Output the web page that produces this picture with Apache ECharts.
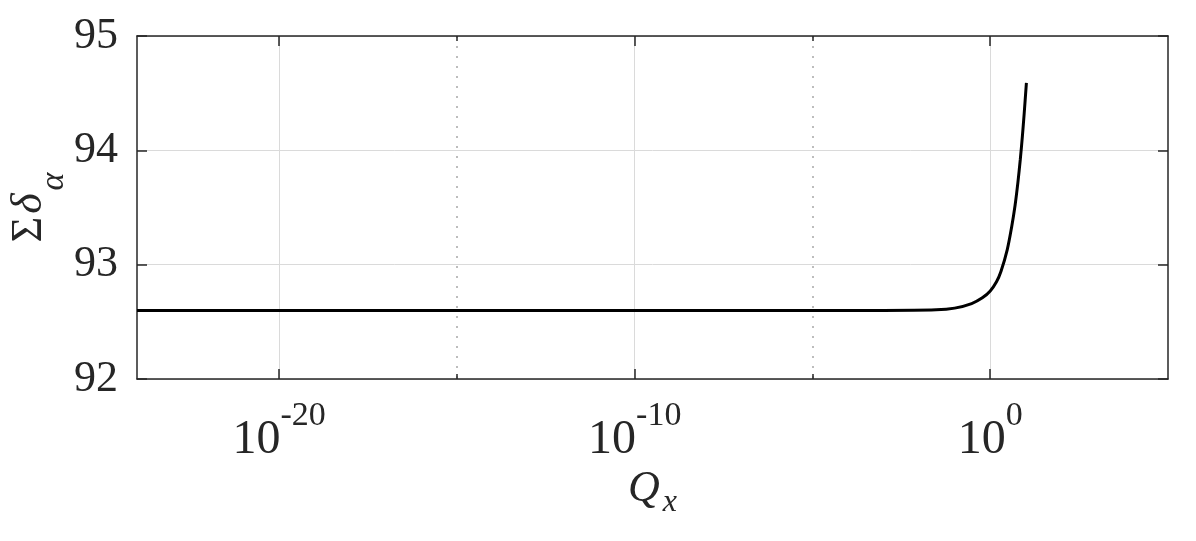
<!DOCTYPE html>
<html>
<head>
<meta charset="utf-8">
<script src="https://cdn.jsdelivr.net/npm/echarts@6/dist/echarts.min.js"></script>
<style>
  html, body { margin: 0; padding: 0; background: #fff; }
  #main { width: 1196px; height: 541px; }
</style>
</head>
<body>
<div id="main"></div>
<script>
  // Q_x values and the summed delta_alpha
  const qx = [1e-24, 1e-12, 1e-3, 0.03, 0.1, 0.3, 0.6, 1.0, 1.5, 2.0, 3.0, 4.0, 5.0, 6.0, 7.0, 8.0, 9.0, 10.4];
  const sumDelta = [92.6, 92.6, 92.6, 92.605, 92.62, 92.66, 92.71, 92.77, 92.85, 92.94, 93.13, 93.33, 93.52, 93.72, 93.92, 94.12, 94.32, 94.59];

  // tick positions
  const xMajor = [1e-20, 1e-10, 1];
  const xMinor = [1e-15, 1e-5];
  const yTicks = [92, 93, 94, 95];

  const ink = '#262626';
  const serif = "'Liberation Serif', 'Times New Roman', serif";

  const chart = echarts.init(document.getElementById('main'));

  const xBase = {
    type: 'log',
    logBase: 10,
    min: 1e-24,
    max: 1e5,
    gridIndex: 0
  };

  const option = {
    animation: false,
    backgroundColor: '#fff',
    grid: { left: 137, right: 28, top: 36, bottom: 162, containLabel: false, outerBoundsMode: 'none' },
    xAxis: [
      Object.assign({}, xBase, {
        position: 'bottom',
        name: '{q|Q}{x|x}',
        nameLocation: 'middle',
        nameGap: 81,
        nameMoveOverlap: false,
        nameTextStyle: {
          rich: {
            q: { fontFamily: serif, fontStyle: 'italic', fontSize: 44, color: ink },
            x: { fontFamily: serif, fontStyle: 'italic', fontSize: 32, color: ink, padding: [27, 0, 0, 3] }
          }
        },
        axisLine: { show: true, onZero: false, lineStyle: { color: ink, width: 1.5 } },
        axisTick: { show: true, inside: true, length: 10, customValues: xMajor, lineStyle: { color: ink, width: 1.5 } },
        axisLabel: {
          customValues: xMajor,
          margin: 20,
          formatter: function (v) {
            const e = Math.round(Math.log10(v));
            return '{b|10}{p|' + e + '}';
          },
          rich: {
            b: { fontFamily: serif, fontSize: 48, color: ink },
            p: { fontFamily: serif, fontSize: 34, color: ink, padding: [0, 0, 48, 0] }
          }
        },
        splitLine: { show: true, lineStyle: { color: '#dadada', width: 1 } }
      }),
      Object.assign({}, xBase, {
        position: 'bottom',
        axisLine: { show: false },
        axisTick: { show: true, inside: true, length: 5, customValues: xMinor, lineStyle: { color: ink, width: 1.5 } },
        axisLabel: { show: false },
        splitLine: { show: true, lineStyle: { color: '#a8a8a8', width: 1.5, type: [2, 8] } }
      }),
      Object.assign({}, xBase, {
        position: 'top',
        axisLine: { show: true, onZero: false, lineStyle: { color: ink, width: 1.5 } },
        axisTick: { show: true, inside: true, length: 10, customValues: xMajor, lineStyle: { color: ink, width: 1.5 } },
        axisLabel: { show: false },
        splitLine: { show: false }
      }),
      Object.assign({}, xBase, {
        position: 'top',
        axisLine: { show: false },
        axisTick: { show: true, inside: true, length: 5, customValues: xMinor, lineStyle: { color: ink, width: 1.5 } },
        axisLabel: { show: false },
        splitLine: { show: false }
      })
    ],
    yAxis: [
      {
        type: 'value',
        position: 'left',
        min: 92,
        max: 95,
        interval: 1,
        name: '{s|Σ}{d|δ}{a|α}',
        nameLocation: 'middle',
        nameRotate: 90,
        nameGap: 66,
        nameMoveOverlap: false,
        nameTextStyle: {
          rich: {
            s: { fontFamily: serif, fontSize: 44, color: ink, padding: [0, 3, 0, 0] },
            d: { fontFamily: serif, fontStyle: 'italic', fontSize: 44, color: ink },
            a: { fontFamily: serif, fontStyle: 'italic', fontSize: 34, color: ink, padding: [50, 0, 0, 3] }
          }
        },
        axisLine: { show: true, onZero: false, lineStyle: { color: ink, width: 1.5 } },
        axisTick: { show: true, inside: true, length: 10, customValues: yTicks, lineStyle: { color: ink, width: 1.5 } },
        axisLabel: { margin: 19, fontFamily: serif, fontSize: 44, color: ink, customValues: yTicks },
        splitLine: { show: true, lineStyle: { color: '#dadada', width: 1 } }
      },
      {
        type: 'value',
        position: 'right',
        min: 92,
        max: 95,
        interval: 1,
        axisLine: { show: true, onZero: false, lineStyle: { color: ink, width: 1.5 } },
        axisTick: { show: true, inside: true, length: 10, lineStyle: { color: ink, width: 1.5 } },
        axisLabel: { show: false },
        splitLine: { show: false }
      }
    ],
    series: [
      {
        type: 'line',
        xAxisIndex: 0,
        yAxisIndex: 0,
        data: qx.map((q, i) => [q, sumDelta[i]]),
        showSymbol: false,
        smooth: 0.3,
        lineStyle: { color: '#000', width: 3 },
        z: 5
      }
    ]
  };

  chart.setOption(option);
</script>
</body>
</html>
